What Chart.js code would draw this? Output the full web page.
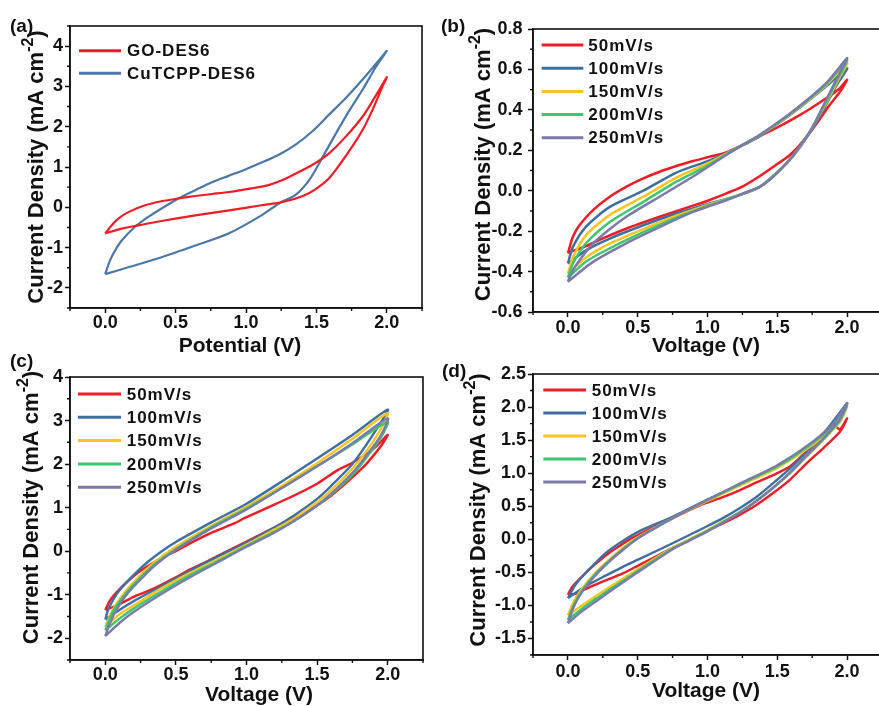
<!DOCTYPE html>
<html><head><meta charset="utf-8">
<script src="https://cdn.jsdelivr.net/npm/chart.js@4/dist/chart.umd.min.js"></script>
<style>
html,body{margin:0;padding:0;background:#fff;overflow:hidden;width:879px;height:706px;position:relative;}
.p{position:absolute;}
.lab{position:absolute;font:bold 19px "Liberation Sans",Arial,sans-serif;color:#111;line-height:1;z-index:5;}
</style></head><body>
<div class="p" style="left:0;top:0"><canvas id="ca" width="440" height="360"></canvas></div>
<div class="p" style="left:440px;top:0"><canvas id="cb" width="460" height="360"></canvas></div>
<div class="p" style="left:0;top:360px"><canvas id="cc" width="440" height="346"></canvas></div>
<div class="p" style="left:440px;top:360px"><canvas id="cd" width="460" height="346"></canvas></div>
<div class="lab" style="left:10px;top:16px">(a)</div>
<div class="lab" style="left:441px;top:16px">(b)</div>
<div class="lab" style="left:10px;top:351px">(c)</div>
<div class="lab" style="left:442px;top:361px">(d)</div>
<script>
// ---------- labels / ticks ----------
const aLabels = ['GO-DES6', 'CuTCPP-DES6'];
const rateLabels = ['50mV/s', '100mV/s', '150mV/s', '200mV/s', '250mV/s'];
const xTicks = [0, 0.5, 1, 1.5, 2];
const xMinor = [-0.25, 0.25, 0.75, 1.25, 1.75, 2.25];
const aYTicks = [-2, -1, 0, 1, 2, 3, 4];
const aYMinor = [-2.5, -1.5, -0.5, 0.5, 1.5, 2.5, 3.5, 4.5];
const bYTicks = [-0.6, -0.4, -0.2, 0, 0.2, 0.4, 0.6, 0.8];
const bYMinor = [-0.5, -0.3, -0.1, 0.1, 0.3, 0.5, 0.7];
const cYTicks = [-2, -1, 0, 1, 2, 3, 4];
const cYMinor = [-2.5, -1.5, -0.5, 0.5, 1.5, 2.5, 3.5];
const dYTicks = [-1.5, -1, -0.5, 0, 0.5, 1, 1.5, 2, 2.5];
const dYMinor = [-1.75, -1.25, -0.75, -0.25, 0.25, 0.75, 1.25, 1.75, 2.25];

// ---------- panel (a) ----------
const aGO = [[0,-0.65],[0.045,-0.45],[0.093,-0.28],[0.164,-0.12],[0.283,0.05],[0.4,0.15],[0.52,0.22],[0.64,0.28],[0.76,0.33],[0.88,0.38],[1.04,0.47],[1.16,0.55],[1.26,0.675],[1.35,0.83],[1.47,1.05],[1.59,1.34],[1.71,1.76],[1.83,2.26],[1.92,2.76],[2.0,3.23],
  [1.97,3.0],[1.9,2.43],[1.83,1.93],[1.755,1.51],[1.68,1.13],[1.59,0.72],[1.49,0.44],[1.4,0.275],[1.26,0.13],[1.11,0.05],[0.88,-0.075],[0.64,-0.2],[0.4,-0.34],[0.235,-0.45],[0.116,-0.53],[0,-0.65]];
const aCu = [[0,-1.66],[0.033,-1.33],[0.069,-1.08],[0.116,-0.83],[0.21,-0.49],[0.306,-0.24],[0.4,-0.03],[0.52,0.22],[0.64,0.425],[0.758,0.62],[0.876,0.78],[0.995,0.94],[1.11,1.11],[1.23,1.3],[1.35,1.55],[1.47,1.88],[1.59,2.3],[1.71,2.72],[1.83,3.18],[1.92,3.55],[2.0,3.88],
  [1.92,3.47],[1.83,2.93],[1.73,2.38],[1.64,1.84],[1.54,1.22],[1.45,0.68],[1.35,0.3],[1.245,0.12],[1.11,-0.2],[0.876,-0.65],[0.64,-0.95],[0.4,-1.24],[0.164,-1.49],[0,-1.66]];

// ---------- panel (b) ----------
const b50 = [[0,-0.31],[0.036,-0.228],[0.084,-0.17],[0.18,-0.096],[0.3,-0.03],[0.42,0.02],[0.54,0.061],[0.657,0.094],[0.777,0.122],[0.896,0.147],[1.016,0.168],[1.135,0.19],[1.25,0.226],[1.37,0.268],[1.49,0.309],[1.61,0.354],[1.73,0.403],[1.85,0.457],[1.95,0.508],[2.0,0.549],
  [1.95,0.49],[1.876,0.425],[1.8,0.35],[1.73,0.284],[1.66,0.226],[1.59,0.177],[1.49,0.127],[1.37,0.07],[1.25,0.02],[1.135,-0.013],[1.016,-0.046],[0.896,-0.074],[0.657,-0.129],[0.42,-0.187],[0.25,-0.236],[0.13,-0.274],[0,-0.307]];
const b100 = [[0,-0.36],[0.036,-0.278],[0.13,-0.178],[0.3,-0.08],[0.54,0.0],[0.777,0.09],[1.016,0.15],[1.18,0.2],[1.374,0.27],[1.61,0.384],[1.85,0.516],[2.0,0.606],
  [1.92,0.516],[1.83,0.4],[1.73,0.284],[1.61,0.168],[1.49,0.085],[1.374,0.019],[1.23,-0.022],[1.016,-0.063],[0.777,-0.113],[0.54,-0.171],[0.3,-0.237],[0.13,-0.295],[0,-0.36]];
const b150 = [[0,-0.41],[0.036,-0.33],[0.13,-0.22],[0.3,-0.12],[0.54,-0.03],[0.777,0.065],[1.016,0.14],[1.18,0.2],[1.374,0.273],[1.61,0.387],[1.85,0.522],[2.0,0.63],
  [1.95,0.565],[1.85,0.435],[1.73,0.287],[1.61,0.17],[1.49,0.084],[1.374,0.019],[1.23,-0.02],[1.016,-0.068],[0.777,-0.124],[0.54,-0.19],[0.3,-0.262],[0.13,-0.33],[0,-0.41]];
const b200 = [[0,-0.43],[0.036,-0.36],[0.13,-0.26],[0.3,-0.155],[0.54,-0.055],[0.777,0.045],[1.016,0.13],[1.18,0.2],[1.374,0.275],[1.61,0.39],[1.85,0.528],[2.0,0.645],
  [1.95,0.575],[1.85,0.443],[1.73,0.289],[1.61,0.172],[1.49,0.084],[1.374,0.019],[1.23,-0.02],[1.016,-0.072],[0.777,-0.133],[0.54,-0.205],[0.3,-0.285],[0.13,-0.35],[0,-0.43]];
const b250 = [[0,-0.45],[0.03,-0.4],[0.084,-0.344],[0.18,-0.261],[0.418,-0.129],[0.657,-0.03],[0.896,0.07],[1.135,0.177],[1.254,0.227],[1.374,0.276],[1.61,0.392],[1.85,0.532],[2.0,0.656],
  [1.947,0.582],[1.85,0.45],[1.756,0.317],[1.66,0.218],[1.565,0.135],[1.47,0.069],[1.374,0.019],[1.254,-0.014],[1.135,-0.047],[0.896,-0.105],[0.657,-0.18],[0.418,-0.26],[0.18,-0.352],[0,-0.45]];

// ---------- panel (c) ----------
const c50 = [[0,-1.35],[0.03,-1.15],[0.07,-0.98],[0.15,-0.72],[0.25,-0.45],[0.4,-0.15],[0.5,0.0],[0.6,0.18],[0.75,0.42],[0.9,0.62],[1.0,0.78],[1.15,1.0],[1.3,1.22],[1.5,1.55],[1.64,1.85],[1.75,2.03],[1.9,2.35],[2.0,2.67],
  [1.96,2.45],[1.9,2.2],[1.83,1.94],[1.7,1.55],[1.59,1.25],[1.45,0.95],[1.35,0.78],[1.2,0.55],[1.11,0.4],[1.0,0.22],[0.85,-0.02],[0.73,-0.22],[0.6,-0.42],[0.5,-0.6],[0.35,-0.85],[0.2,-1.05],[0.1,-1.22],[0,-1.35]];
const c100 = [[0,-1.57],[0.02,-1.35],[0.05,-1.15],[0.1,-0.9],[0.2,-0.55],[0.3,-0.25],[0.4,0.0],[0.5,0.21],[0.75,0.66],[1.0,1.09],[1.25,1.6],[1.5,2.13],[1.75,2.67],[2.0,3.25],
  [1.95,2.95],[1.85,2.45],[1.75,2.0],[1.6,1.5],[1.5,1.2],[1.35,0.85],[1.2,0.55],[1.0,0.2],[0.8,-0.12],[0.6,-0.45],[0.4,-0.8],[0.2,-1.15],[0.1,-1.35],[0,-1.57]];
const c150 = [[0,-1.75],[0.03,-1.5],[0.07,-1.25],[0.15,-0.9],[0.25,-0.55],[0.35,-0.25],[0.5,0.1],[0.75,0.58],[1.0,1.02],[1.25,1.5],[1.5,2.02],[1.75,2.58],[2.0,3.17],
  [1.95,2.8],[1.85,2.3],[1.75,1.9],[1.6,1.4],[1.5,1.12],[1.35,0.78],[1.2,0.5],[1.0,0.15],[0.8,-0.18],[0.6,-0.5],[0.4,-0.85],[0.2,-1.25],[0.1,-1.45],[0,-1.75]];
const c200 = [[0,-1.82],[0.03,-1.55],[0.07,-1.3],[0.15,-0.95],[0.25,-0.6],[0.35,-0.3],[0.5,0.05],[0.75,0.55],[1.0,0.98],[1.25,1.45],[1.5,1.95],[1.75,2.45],[2.0,2.97],
  [1.95,2.6],[1.85,2.15],[1.75,1.75],[1.6,1.3],[1.5,1.05],[1.35,0.72],[1.2,0.45],[1.0,0.12],[0.8,-0.22],[0.6,-0.55],[0.4,-0.92],[0.2,-1.32],[0.1,-1.55],[0,-1.82]];
const c250 = [[0,-1.95],[0.03,-1.68],[0.07,-1.4],[0.15,-1.0],[0.25,-0.65],[0.35,-0.33],[0.5,0.03],[0.75,0.52],[1.0,0.96],[1.25,1.45],[1.5,1.95],[1.75,2.48],[2.0,3.05],
  [1.95,2.65],[1.85,2.2],[1.75,1.8],[1.6,1.32],[1.5,1.05],[1.35,0.72],[1.2,0.43],[1.0,0.1],[0.8,-0.25],[0.6,-0.6],[0.4,-0.98],[0.2,-1.4],[0.1,-1.65],[0,-1.95]];

// ---------- panel (d) ----------
const d50 = [[0,-0.84],[0.03,-0.72],[0.084,-0.6],[0.16,-0.44],[0.227,-0.32],[0.3,-0.2],[0.37,-0.1],[0.45,0.01],[0.514,0.08],[0.63,0.2],[0.753,0.32],[0.87,0.44],[0.99,0.55],[1.1,0.63],[1.23,0.74],[1.35,0.86],[1.47,0.97],[1.59,1.1],[1.71,1.33],[1.8,1.5],[1.88,1.66],[1.92,1.7],[1.95,1.66],[2.0,1.83],
  [1.95,1.63],[1.83,1.38],[1.71,1.15],[1.59,0.9],[1.47,0.7],[1.35,0.52],[1.23,0.37],[1.11,0.24],[0.99,0.12],[0.87,-0.01],[0.75,-0.13],[0.63,-0.26],[0.51,-0.39],[0.39,-0.52],[0.27,-0.62],[0.16,-0.72],[0.06,-0.82],[0,-0.84]];
const d100 = [[0,-0.89],[0.06,-0.67],[0.16,-0.44],[0.27,-0.21],[0.39,-0.03],[0.51,0.12],[0.75,0.34],[0.99,0.59],[1.23,0.82],[1.47,1.07],[1.71,1.4],[1.83,1.6],[2.0,2.06],
  [1.95,1.88],[1.83,1.6],[1.71,1.32],[1.59,1.07],[1.47,0.85],[1.35,0.64],[1.23,0.47],[1.11,0.32],[0.99,0.19],[0.75,-0.06],[0.51,-0.3],[0.39,-0.42],[0.27,-0.55],[0.16,-0.67],[0.06,-0.8],[0,-0.89]];
const d150 = [[0,-1.15],[0.04,-0.95],[0.1,-0.75],[0.2,-0.5],[0.3,-0.3],[0.4,-0.12],[0.5,0.03],[0.6,0.15],[0.75,0.32],[1.0,0.58],[1.25,0.83],[1.5,1.08],[1.75,1.42],[1.9,1.7],[2.0,2.01],
  [1.95,1.78],[1.85,1.55],[1.71,1.25],[1.59,1.0],[1.47,0.78],[1.35,0.58],[1.23,0.41],[1.11,0.27],[1.0,0.14],[0.87,0.0],[0.75,-0.13],[0.6,-0.32],[0.45,-0.52],[0.3,-0.72],[0.2,-0.86],[0.1,-1.0],[0,-1.15]];
const d200 = [[0,-1.22],[0.04,-1.0],[0.1,-0.78],[0.2,-0.52],[0.3,-0.32],[0.4,-0.14],[0.5,0.02],[0.6,0.14],[0.75,0.32],[1.0,0.59],[1.25,0.85],[1.5,1.1],[1.75,1.45],[1.9,1.73],[2.0,2.04],
  [1.95,1.8],[1.85,1.56],[1.71,1.26],[1.59,1.0],[1.47,0.78],[1.35,0.58],[1.23,0.41],[1.11,0.26],[1.0,0.13],[0.87,-0.01],[0.75,-0.14],[0.6,-0.34],[0.45,-0.55],[0.3,-0.76],[0.2,-0.9],[0.1,-1.05],[0,-1.22]];
const d250 = [[0,-1.27],[0.04,-1.03],[0.1,-0.8],[0.2,-0.54],[0.3,-0.33],[0.4,-0.15],[0.5,0.01],[0.6,0.14],[0.75,0.32],[1.0,0.6],[1.25,0.86],[1.5,1.12],[1.75,1.47],[1.9,1.75],[2.0,2.06],
  [1.95,1.82],[1.85,1.57],[1.71,1.27],[1.59,1.01],[1.47,0.78],[1.35,0.58],[1.23,0.4],[1.11,0.25],[1.0,0.12],[0.87,-0.02],[0.75,-0.15],[0.6,-0.36],[0.45,-0.57],[0.3,-0.79],[0.2,-0.94],[0.1,-1.09],[0,-1.27]];

// ---------- styles ----------
const aColors = ['#ee1c25', '#4a78a8'];
const rateColors = ['#ee1c25', '#3d6fa3', '#f9c41e', '#3cc66e', '#7a7aab'];
const FAM = '"Liberation Sans", Arial, sans-serif';
const INK = '#111';

const decor = {
  id: 'decor',
  afterDraw(chart, args, o) {
    const {ctx, chartArea: a, scales} = chart;
    const x = scales.x, y = scales.y;
    ctx.save();
    ctx.strokeStyle = INK; ctx.lineWidth = 1.6;
    ctx.strokeRect(a.left, a.top, a.right - a.left, a.bottom - a.top);
    ctx.lineWidth = 1.4;
    ctx.beginPath();
    o.minorX.forEach(v => { const px = x.getPixelForValue(v); ctx.moveTo(px, a.bottom); ctx.lineTo(px, a.bottom + 3); });
    o.minorY.forEach(v => { const py = y.getPixelForValue(v); ctx.moveTo(a.left - 3, py); ctx.lineTo(a.left, py); });
    ctx.stroke();
    // legend
    const L = o.legend;
    ctx.font = 'bold 17px ' + FAM;
    ctx.letterSpacing = '1px';
    ctx.textBaseline = 'middle'; ctx.textAlign = 'left';
    chart.data.datasets.forEach((ds, i) => {
      const yy = L.y0 + i * L.dy;
      ctx.strokeStyle = ds.borderColor; ctx.lineWidth = 3;
      ctx.beginPath(); ctx.moveTo(L.x0, yy); ctx.lineTo(L.x1, yy); ctx.stroke();
      ctx.fillStyle = INK; ctx.fillText(ds.label, L.tx, yy + 1);
    });
    ctx.letterSpacing = '0px';
    // x title
    const X = o.xTitle;
    ctx.font = 'bold 21px ' + FAM; ctx.textAlign = 'center'; ctx.textBaseline = 'alphabetic';
    ctx.fillStyle = INK;
    ctx.fillText(X.text, X.cx, X.base);
    // y title with superscript
    const Y = o.yTitle;
    ctx.translate(Y.bx, Y.cy); ctx.rotate(-Math.PI / 2);
    ctx.textAlign = 'left';
    const f1 = 'bold 22px ' + FAM, f2 = 'bold 16px ' + FAM;
    ctx.font = f1; const w1 = ctx.measureText(Y.main).width, w3 = ctx.measureText(Y.end).width;
    ctx.font = f2; const w2 = ctx.measureText(Y.sup).width;
    let xx = -(w1 + w2 + w3) / 2;
    ctx.font = f1; ctx.fillText(Y.main, xx, 0); xx += w1;
    ctx.font = f2; ctx.fillText(Y.sup, xx, -10); xx += w2;
    ctx.font = f1; ctx.fillText(Y.end, xx, 0);
    ctx.restore();
  }
};

const tickFont = {family: FAM, size: 18, weight: 'bold', lineHeight: 1};

function scales(cfg) {
  return {
    x: {
      type: 'linear', min: -0.25, max: 2.25,
      afterBuildTicks: s => { s.ticks = xTicks.map(v => ({value: v})); },
      afterFit: s => { s.height = cfg.xH; },
      ticks: {callback: v => Number(v).toFixed(1), font: tickFont, color: INK, padding: cfg.xPad, maxRotation: 0, autoSkip: false},
      grid: {drawOnChartArea: false, drawTicks: true, tickLength: 5, tickColor: INK, tickWidth: 1.5},
      border: {display: true, color: INK, width: 1.6},
      title: {display: false}
    },
    y: {
      type: 'linear', min: cfg.yMin, max: cfg.yMax,
      afterBuildTicks: s => { s.ticks = cfg.yTicks.map(v => ({value: v})); },
      afterFit: s => { s.width = cfg.yW; },
      ticks: {callback: cfg.yFmt, font: tickFont, color: INK, padding: cfg.yPad, autoSkip: false},
      grid: {drawOnChartArea: false, drawTicks: true, tickLength: 5, tickColor: INK, tickWidth: 1.5},
      border: {display: true, color: INK, width: 1.6},
      title: {display: false}
    }
  };
}

function build(id, series, labels, colors, reorder, lw, cfg) {
  const datasets = series.map((s, i) => ({
    label: labels[i], data: s, showLine: true, pointRadius: 0, borderWidth: lw,
    borderColor: colors[i], backgroundColor: colors[i], fill: false, tension: 0.25,
    order: reorder ? series.length - 1 - i : i
  }));
  new Chart(document.getElementById(id), {
    type: 'scatter',
    data: {datasets},
    options: {
      responsive: false, devicePixelRatio: 1, animation: false,
      layout: {padding: cfg.pad},
      plugins: {legend: {display: false}, tooltip: {enabled: false}, decor: cfg.decor},
      scales: scales(cfg)
    },
    plugins: [decor]
  });
}

const yMain = 'Current Density (mA cm', ySup = '-2', yEnd = ')';
const fmtInt = v => String(Math.round(v));
const fmt1 = v => Number(v).toFixed(1);

build('ca', [aGO, aCu], aLabels, aColors, false, 2.2, {
  pad: {left: 0, top: 26, right: 18, bottom: 0}, yW: 70, xH: 52, xPad: 1, yPad: 2,
  yMin: -2.5, yMax: 4.5, yTicks: aYTicks, yFmt: fmtInt,
  decor: {minorX: xMinor, minorY: aYMinor,
    legend: {x0: 79, x1: 121, tx: 127, y0: 50.7, dy: 22.6},
    xTitle: {text: 'Potential (V)', cx: 240, base: 352},
    yTitle: {main: yMain, sup: ySup, end: yEnd, bx: 43.3, cy: 167}}
});
build('cb', [b50, b100, b150, b200, b250], rateLabels, rateColors, true, 2.5, {
  pad: {left: 0, top: 29, right: 18, bottom: 0}, yW: 93, xH: 48, xPad: 2, yPad: 5.5,
  yMin: -0.6, yMax: 0.8, yTicks: bYTicks, yFmt: fmt1,
  decor: {minorX: xMinor, minorY: bYMinor,
    legend: {x0: 101.7, x1: 143.3, tx: 148.3, y0: 45, dy: 23.2},
    xTitle: {text: 'Voltage (V)', cx: 266, base: 351.5},
    yTitle: {main: yMain, sup: ySup, end: yEnd, bx: 50, cy: 164.5}}
});
build('cc', [c50, c100, c150, c200, c250], rateLabels, rateColors, true, 2.4, {
  pad: {left: 0, top: 17, right: 17, bottom: 0}, yW: 70, xH: 46, xPad: 1, yPad: 2,
  yMin: -2.5, yMax: 4, yTicks: cYTicks, yFmt: fmtInt,
  decor: {minorX: xMinor, minorY: cYMinor,
    legend: {x0: 78, x1: 121, tx: 126.7, y0: 34, dy: 23.3},
    xTitle: {text: 'Voltage (V)', cx: 259, base: 340.5},
    yTitle: {main: yMain, sup: ySup, end: yEnd, bx: 38.3, cy: 147.5}}
});
build('cd', [d50, d100, d150, d200, d250], rateLabels, rateColors, true, 2.4, {
  pad: {left: 0, top: 14, right: 18, bottom: 0}, yW: 93, xH: 51, xPad: 3, yPad: 2,
  yMin: -1.75, yMax: 2.5, yTicks: dYTicks, yFmt: fmt1,
  decor: {minorX: xMinor, minorY: dYMinor,
    legend: {x0: 103.3, x1: 146, tx: 151.7, y0: 30, dy: 23},
    xTitle: {text: 'Voltage (V)', cx: 266, base: 336.5},
    yTitle: {main: yMain, sup: ySup, end: yEnd, bx: 45, cy: 150}}
});
</script>
</body></html>
